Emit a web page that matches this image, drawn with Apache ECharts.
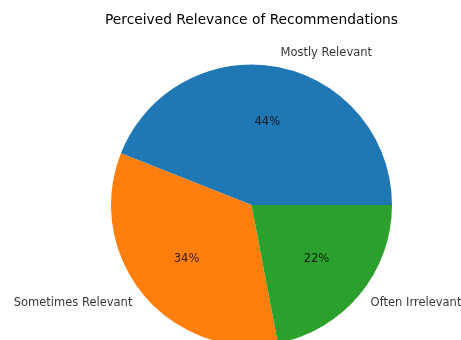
<!DOCTYPE html>
<html>
<head>
<meta charset="utf-8">
<script src="https://cdn.jsdelivr.net/npm/echarts@6/dist/echarts.min.js"></script>
<style>html,body{margin:0;padding:0;background:#fff;}#c{width:461px;height:340px;}</style>
</head>
<body>
<div id="c"></div>
<script>
const categories = ["Mostly Relevant", "Sometimes Relevant", "Often Irrelevant"];
const values = [44, 34, 22];
const colors = ["#1f77b4", "#ff7f0e", "#2ca02c"];
const titleText = "Perceived Relevance of Recommendations";

const R = 140.5;
const center = [251.5, 205];
const font = "DejaVu Sans";
const total = values.reduce((a, b) => a + b, 0);

// mid-angle of each wedge, in the value units of the angle axis
const mids = [];
let cum = 0;
values.forEach(v => { mids.push(cum + v / 2); cum += v; });

const data = categories.map((c, i) => ({ name: c, value: values[i], itemStyle: { color: colors[i] } }));

const pctData = categories.map((c, i) => ({
  value: [0.6, mids[i]],
  label: { formatter: Math.round(values[i] / total * 100) + '%' }
}));
const nameData = categories.map((c, i) => {
  const rightSide = Math.cos(mids[i] / total * 2 * Math.PI) >= 0;
  return {
    value: [1.1, mids[i]],
    label: { formatter: c, position: rightSide ? 'right' : 'left' }
  };
});

const chart = echarts.init(document.getElementById('c'), null, { renderer: 'canvas' });
chart.setOption({
  animation: false,
  backgroundColor: '#ffffff',
  title: {
    text: titleText, left: center[0], top: 13, padding: 0,
    textAlign: 'center',
    textStyle: { fontFamily: font, fontSize: 13.8, fontWeight: 'normal', color: '#000' }
  },
  polar: { center: center, radius: R * 1.2 },
  angleAxis: { type: 'value', min: 0, max: total, startAngle: 0, clockwise: false, show: false,
    axisLine: { show: false }, splitLine: { show: false }, axisTick: { show: false }, axisLabel: { show: false } },
  radiusAxis: { type: 'value', min: 0, max: 1.2, show: false,
    axisLine: { show: false }, splitLine: { show: false }, axisTick: { show: false }, axisLabel: { show: false } },
  series: [
    {
      type: 'pie', center: center, radius: [0, R],
      startAngle: 0, clockwise: false, avoidLabelOverlap: false, silent: true,
      itemStyle: { borderWidth: 0 },
      label: { show: false },
      labelLine: { show: false },
      data: data
    },
    {
      type: 'scatter', coordinateSystem: 'polar', symbolSize: 0, silent: true, z: 10, clip: false,
      label: { show: true, position: 'inside', fontFamily: font, fontSize: 11.5, color: '#000' },
      data: pctData
    },
    {
      type: 'scatter', coordinateSystem: 'polar', symbolSize: 0, silent: true, z: 10, clip: false,
      label: { show: true, distance: 0, fontFamily: font, fontSize: 11.5, color: '#000' },
      data: nameData
    }
  ]
});
</script>
</body>
</html>
